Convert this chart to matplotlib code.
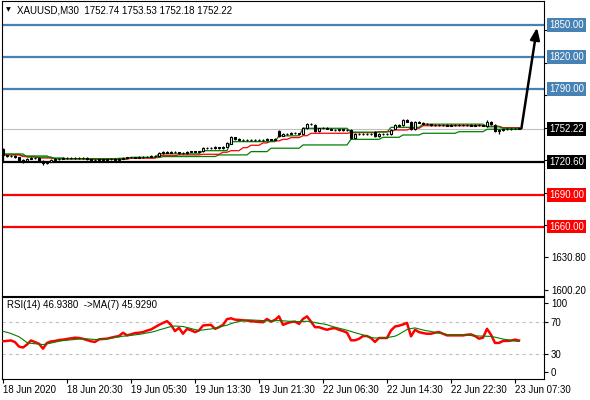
import matplotlib
matplotlib.use("Agg")
import matplotlib.pyplot as plt
import numpy as np

plt.rcParams['font.family'] = ['Liberation Sans', 'DejaVu Sans']

# --- XAUUSD M30 candles ---
opens = [
    1733.5, 1727.0, 1726.5, 1726.2, 1725.4, 1723.0, 1722.2, 1723.8, 1724.6, 1725.0,
    1722.0, 1719.5, 1721.0, 1722.8, 1723.5, 1724.0, 1724.5, 1724.8, 1724.2, 1724.6,
    1724.3, 1724.9, 1723.5, 1722.6, 1722.9, 1723.4, 1722.8, 1723.2, 1723.6, 1723.1,
    1723.9, 1724.8, 1725.2, 1725.3, 1725.0, 1725.6, 1725.9, 1725.7, 1726.3, 1726.6,
    1729.0, 1730.0, 1729.6, 1730.2, 1729.8, 1729.0, 1729.3, 1730.5, 1730.8, 1730.4,
    1730.9, 1734.0, 1733.6, 1733.9, 1734.7, 1733.8, 1735.3, 1738.0, 1744.2, 1742.5,
    1741.8, 1741.3, 1741.9, 1741.5, 1742.0, 1741.4, 1741.7, 1742.3, 1741.9, 1750.5,
    1745.5, 1747.0, 1747.6, 1748.5, 1748.0, 1747.6, 1752.8, 1756.8, 1755.5, 1750.0,
    1752.6, 1753.0, 1752.2, 1751.3, 1751.0, 1751.5, 1750.8, 1751.2, 1743.8, 1747.0,
    1746.8, 1747.4, 1747.2, 1749.2, 1745.0, 1747.2, 1747.0, 1747.5, 1752.0, 1756.0,
    1755.5, 1760.5, 1758.8, 1751.5, 1758.5, 1758.0, 1756.7, 1756.2, 1755.5, 1756.0,
    1755.4, 1755.8, 1755.2, 1755.9, 1755.5, 1756.1, 1755.4, 1755.8, 1755.0, 1755.6,
    1755.3, 1754.5, 1759.0, 1756.0, 1750.5, 1751.0, 1751.5, 1751.9, 1752.0, 1752.74]
highs = [
    1734.2, 1727.8, 1727.3, 1727.0, 1726.0, 1723.6, 1724.6, 1725.5, 1725.8, 1725.6,
    1722.6, 1721.8, 1723.5, 1724.2, 1724.8, 1725.3, 1725.5, 1725.4, 1725.3, 1725.2,
    1725.6, 1725.4, 1724.1, 1723.6, 1724.0, 1724.0, 1723.9, 1724.3, 1724.2, 1724.5,
    1725.4, 1725.9, 1726.0, 1725.9, 1726.3, 1726.6, 1726.5, 1727.0, 1727.3, 1729.8,
    1730.8, 1730.9, 1731.0, 1730.9, 1730.5, 1729.9, 1731.2, 1731.5, 1731.4, 1731.6,
    1734.6, 1734.7, 1734.6, 1735.5, 1735.3, 1736.0, 1739.3, 1745.0, 1744.8, 1743.2,
    1742.4, 1742.6, 1742.5, 1742.7, 1742.6, 1742.3, 1743.0, 1742.9, 1743.1, 1751.2,
    1747.8, 1748.3, 1749.2, 1749.1, 1748.6, 1753.5, 1757.8, 1757.6, 1756.2, 1753.3,
    1753.7, 1753.6, 1752.8, 1752.0, 1752.1, 1752.2, 1751.9, 1751.8, 1747.8, 1747.8,
    1748.1, 1748.2, 1747.9, 1749.8, 1747.9, 1747.8, 1748.2, 1751.6, 1756.8, 1756.7,
    1761.2, 1761.0, 1759.4, 1759.2, 1759.2, 1758.6, 1757.4, 1757.0, 1756.8, 1756.7,
    1756.5, 1756.6, 1756.8, 1756.5, 1757.0, 1756.7, 1756.4, 1756.5, 1756.3, 1756.2,
    1755.9, 1760.0, 1759.6, 1756.6, 1751.8, 1752.1, 1752.5, 1752.6, 1752.8, 1753.53]
lows = [
    1721.5, 1725.8, 1725.5, 1724.8, 1722.2, 1719.8, 1721.6, 1723.2, 1724.0, 1721.3,
    1718.0, 1718.6, 1720.4, 1722.2, 1723.0, 1723.6, 1723.9, 1723.6, 1723.5, 1723.6,
    1723.8, 1723.0, 1721.9, 1722.0, 1722.3, 1722.1, 1722.2, 1722.7, 1722.5, 1722.6,
    1723.4, 1724.2, 1724.6, 1724.3, 1724.4, 1725.0, 1725.1, 1725.1, 1725.8, 1726.1,
    1728.4, 1729.0, 1728.9, 1729.2, 1728.4, 1728.4, 1728.8, 1729.9, 1729.8, 1729.9,
    1730.5, 1733.0, 1733.0, 1733.3, 1733.2, 1733.3, 1734.8, 1737.4, 1741.9, 1741.2,
    1740.7, 1740.8, 1740.9, 1740.9, 1740.8, 1740.8, 1741.2, 1741.3, 1741.4, 1744.6,
    1744.9, 1746.4, 1747.0, 1747.4, 1746.9, 1747.0, 1752.2, 1755.6, 1749.3, 1749.5,
    1751.9, 1751.6, 1750.6, 1750.4, 1750.4, 1750.1, 1750.2, 1742.9, 1743.2, 1746.0,
    1746.0, 1746.5, 1746.2, 1744.3, 1744.5, 1746.3, 1746.5, 1746.5, 1751.5, 1754.6,
    1755.0, 1758.1, 1750.8, 1750.9, 1757.3, 1756.0, 1755.6, 1754.8, 1754.9, 1754.7,
    1754.8, 1754.6, 1754.5, 1754.7, 1754.9, 1754.7, 1754.7, 1754.3, 1754.3, 1754.6,
    1754.5, 1754.0, 1755.8, 1749.5, 1747.4, 1750.4, 1750.9, 1751.3, 1751.5, 1752.18]
closes = [
    1727.0, 1726.5, 1726.2, 1725.4, 1723.0, 1722.2, 1723.8, 1724.6, 1725.0, 1722.0,
    1719.5, 1721.0, 1722.8, 1723.5, 1724.0, 1724.5, 1724.8, 1724.2, 1724.6, 1724.3,
    1724.9, 1723.5, 1722.6, 1722.9, 1723.4, 1722.8, 1723.2, 1723.6, 1723.1, 1723.9,
    1724.8, 1725.2, 1725.3, 1725.0, 1725.6, 1725.9, 1725.7, 1726.3, 1726.6, 1729.0,
    1730.0, 1729.6, 1730.2, 1729.8, 1729.0, 1729.3, 1730.5, 1730.8, 1730.4, 1730.9,
    1734.0, 1733.6, 1733.9, 1734.7, 1733.8, 1735.3, 1738.5, 1744.2, 1742.5, 1741.8,
    1741.3, 1741.9, 1741.5, 1742.0, 1741.4, 1741.7, 1742.3, 1741.9, 1742.4, 1745.5,
    1747.0, 1747.6, 1748.5, 1748.0, 1747.6, 1752.8, 1756.8, 1756.5, 1750.0, 1752.6,
    1753.0, 1752.2, 1751.3, 1751.0, 1751.5, 1750.8, 1751.2, 1743.8, 1747.0, 1746.8,
    1747.4, 1747.2, 1746.9, 1745.0, 1747.2, 1747.0, 1747.5, 1751.0, 1756.0, 1755.2,
    1760.5, 1758.8, 1751.5, 1758.5, 1758.0, 1756.7, 1756.2, 1755.5, 1756.0, 1755.4,
    1755.8, 1755.2, 1755.9, 1755.5, 1756.1, 1755.4, 1755.8, 1755.0, 1755.6, 1755.3,
    1755.0, 1759.0, 1756.5, 1750.5, 1751.0, 1751.5, 1751.9, 1752.0, 1752.3, 1752.22]

# --- moving averages (stepped, higher timeframe): start bar of each step + value ---
ma_fast_start = [0, 6, 13, 32, 39, 50, 57, 69, 75, 87, 97, 105, 121, 125]
ma_fast_val = [1728.4, 1725.5, 1724.0, 1725.2, 1728.5, 1731.5, 1740.0, 1745.5,
               1752.6, 1749.0, 1753.5, 1756.5, 1754.0, 1752.6]
ma_mid_start = [0, 5, 9, 13, 21, 32, 39, 44, 50, 55, 57, 60, 62, 65, 67, 70, 72,
                75, 77, 87, 94, 98, 102, 105, 121, 125]
ma_mid_val = [1727.4, 1726.0, 1724.6, 1723.9, 1723.4, 1724.4, 1726.8, 1727.5,
              1728.1, 1730.0, 1731.5, 1734.3, 1736.6, 1738.8, 1740.7, 1742.2,
              1743.8, 1745.6, 1747.9, 1748.5, 1749.4, 1751.0, 1752.6, 1755.0,
              1754.5, 1753.2]
ma_slow_start = [0, 5, 12, 16, 29, 33, 40, 49, 54, 62, 67, 75, 87, 95, 100, 105, 114, 121]
ma_slow_val = [1728.0, 1726.5, 1724.6, 1723.7, 1724.3, 1725.0, 1725.9, 1726.0,
               1727.5, 1730.6, 1733.8, 1736.9, 1742.2, 1744.1, 1746.3, 1747.9,
               1749.4, 1751.7]

# --- RSI(14) and its MA(7) ---
rsi = [
    46.0, 46.5, 47.0, 45.0, 39.5, 38.4, 42.0, 47.0, 45.0, 43.0,
    37.0, 44.0, 45.8, 46.4, 47.5, 48.0, 48.8, 49.5, 50.4, 50.0,
    49.0, 47.5, 46.0, 45.2, 48.4, 48.8, 49.2, 50.4, 51.5, 52.4,
    56.4, 53.2, 54.5, 56.0, 56.4, 57.2, 59.0, 60.4, 63.2, 66.0,
    68.4, 70.5, 66.0, 58.4, 62.4, 55.2, 61.0, 59.5, 57.2, 59.2,
    65.2, 65.8, 66.0, 61.2, 63.2, 66.0, 73.0, 74.0, 72.4, 72.0,
    71.5, 71.2, 70.5, 70.0, 69.6, 69.2, 73.2, 70.0, 72.0, 76.4,
    66.0, 68.0, 69.5, 70.0, 67.2, 73.2, 76.4, 70.0, 63.2, 63.2,
    61.5, 60.0, 61.5, 62.0, 60.0, 58.5, 56.5, 47.2, 47.2, 49.0,
    52.4, 52.4, 50.0, 45.2, 50.0, 50.0, 50.0, 59.2, 64.0, 65.0,
    66.5, 68.4, 52.0, 60.0, 57.2, 56.0, 55.2, 55.2, 56.5, 57.2,
    55.2, 53.2, 53.2, 53.2, 53.2, 53.2, 54.0, 54.4, 52.4, 49.2,
    50.4, 61.2, 54.0, 44.0, 44.0, 46.4, 46.4, 46.8, 48.0, 46.938]
rsi_ma = [
    58.0, 57.0, 55.5, 53.5, 51.5, 48.0, 44.5, 43.5, 43.0, 42.5,
    42.0, 42.8, 43.8, 45.0, 46.0, 46.8, 47.3, 47.8, 48.3, 48.8,
    49.2, 49.0, 48.6, 48.2, 48.0, 48.5, 49.2, 49.8, 50.6, 51.4,
    52.2, 52.6, 53.2, 53.8, 54.4, 55.2, 56.2, 57.0, 58.2, 59.8,
    61.2, 62.6, 64.0, 64.6, 64.3, 64.0, 62.8, 61.6, 60.2, 59.3,
    59.8, 60.5, 61.0, 62.0, 63.2, 64.6, 65.6, 67.5, 69.0, 70.2,
    71.2, 71.8, 72.0, 71.8, 71.5, 71.2, 71.0, 71.0, 71.2, 71.2,
    71.0, 70.6, 70.2, 70.0, 70.0, 70.2, 70.4, 69.8, 68.8, 67.8,
    67.2, 66.2, 64.6, 63.2, 62.0, 60.8, 59.5, 58.0, 56.5, 55.2,
    53.8, 52.2, 50.5, 50.0, 50.0, 50.0, 50.5, 51.3, 52.2, 54.5,
    57.5, 60.3, 61.5, 62.3, 61.0, 59.8, 58.8, 58.0, 56.8, 56.0,
    55.2, 54.2, 54.0, 54.0, 54.0, 54.0, 53.6, 53.0, 52.6, 52.4,
    52.2, 52.1, 52.0, 51.0, 49.8, 48.7, 48.0, 47.2, 46.2, 45.929]

# --- levels / labels ---
blue_levels = [1850.0, 1820.0, 1790.0]
red_levels = [1690.0, 1660.0]
black_level = 1720.6
last_price = 1752.22
price_ticks = [1600.2, 1630.8, 1661.4, 1692.0, 1722.6, 1753.2, 1783.8, 1814.4, 1845.0]
shown_price_ticks = [1600.2, 1630.8]   # the rest sit under the level boxes
arrow_start = (129.6, 1752.5)
arrow_end = (133.5, 1847.5)
date_ticks = [0, 16, 32, 48, 64, 80, 96, 112, 128]
date_labels = ["18 Jun 2020", "18 Jun 20:30", "19 Jun 05:30", "19 Jun 13:30",
               "19 Jun 21:30", "22 Jun 06:30", "22 Jun 14:30", "22 Jun 22:30",
               "23 Jun 07:30"]

BLUE = "#4682B4"
RED = "#FF0000"
GREEN = "#008000"
FS = 6.9

W, H = 590, 400
def rect(x0, y0, x1, y1):
    return [x0 / W, 1 - y1 / H, (x1 - x0) / W, (y1 - y0) / H]

fig = plt.figure(figsize=(W / 100, H / 100), dpi=100)
ax = fig.add_axes(rect(2, 1, 544, 296))
ax2 = fig.add_axes(rect(2, 297, 544, 379))

n = len(closes)
x = np.arange(n)
o = np.array(opens); c = np.array(closes)
hi = np.array(highs); lo = np.array(lows)

# --- main price panel ---
ax.axhline(last_price, color="#C0C0C0", lw=0.8, zorder=1)
for v in blue_levels:
    ax.axhline(v, color=BLUE, lw=1.6, zorder=2)
for v in red_levels:
    ax.axhline(v, color=RED, lw=1.6, zorder=2)
ax.axhline(black_level, color="black", lw=1.6, zorder=2)

def steps(starts, vals):
    lens = np.diff(list(starts) + [n])
    return np.repeat(vals, lens)

ax.plot(x, steps(ma_slow_start, ma_slow_val), color=GREEN, lw=0.9, zorder=3)
ax.plot(x, steps(ma_mid_start, ma_mid_val), color=RED, lw=0.9, zorder=3)
ax.plot(x, steps(ma_fast_start, ma_fast_val), color=GREEN, lw=0.9, zorder=3)

up = c >= o
ax.vlines(x, lo, hi, color="black", lw=0.9, zorder=4)
ax.bar(x[up], (c - o)[up], bottom=o[up], width=0.65, facecolor="white",
       edgecolor="black", lw=0.8, zorder=5)
ax.bar(x[~up], (c - o)[~up], bottom=o[~up], width=0.65, facecolor="black",
       edgecolor="black", lw=0.8, zorder=5)

ax.annotate("", xy=arrow_end, xytext=arrow_start,
            arrowprops=dict(arrowstyle="-|>,head_length=0.7,head_width=0.28",
                            color="black", lw=1.8, shrinkA=0, shrinkB=0),
            zorder=6)

ax.set_xlim(-0.25, 135.25)
ax.set_ylim(1594.5, 1872.6)
ax.set_xticks([])
ax.yaxis.tick_right()
ax.set_yticks(price_ticks)
ax.set_yticklabels([f"{v:.2f}" if v in shown_price_ticks else "" for v in price_ticks])
ax.tick_params(axis="y", direction="out", length=3, width=0.8, labelsize=FS, pad=2)

def price_box(v, fc):
    ax.text(1.0092, v, f"{v:.2f}", transform=ax.get_yaxis_transform(),
            ha="left", va="center", color="white", fontsize=FS,
            bbox=dict(boxstyle="square,pad=0.2", fc=fc, ec="none"),
            clip_on=False, zorder=10)

for v in blue_levels:
    price_box(v, BLUE)
for v in red_levels:
    price_box(v, RED)
price_box(black_level, "black")
price_box(last_price, "black")

fig.text(8 / W, 1 - 10 / H, "\u25BC", fontsize=4.5, ha="center", va="center",
         family="DejaVu Sans")
fig.text(17 / W, 1 - 10.5 / H, "XAUUSD,M30  1752.74 1753.53 1752.18 1752.22",
         fontsize=7, ha="left", va="center")

# --- RSI panel ---
ax2.axhline(70, color="#C0C0C0", lw=0.8, ls=(0, (3, 3)))
ax2.axhline(30, color="#C0C0C0", lw=0.8, ls=(0, (3, 3)))
ax2.plot(x, rsi, color=RED, lw=1.8, zorder=3)
ax2.plot(x, rsi_ma, color=GREEN, lw=0.8, zorder=4)
ax2.set_xlim(-0.25, 135.25)
ax2.set_ylim(0, 100)
ax2.yaxis.tick_right()
ax2.set_yticks([8, 30, 70, 92.5])
ax2.set_yticklabels(["0", "30", "70", "100"])
ax2.tick_params(axis="y", direction="out", length=3, width=0.8, labelsize=FS, pad=2)
ax2.set_xticks(date_ticks)
ax2.set_xticklabels(date_labels)
ax2.tick_params(axis="x", direction="out", length=3, width=0.8, labelsize=FS, pad=1.5)
for lbl in ax2.get_xticklabels():
    lbl.set_ha("left")

fig.text(7 / W, 1 - 304.5 / H, "RSI(14) 46.9380  ->MA(7) 45.9290",
         fontsize=7, ha="left", va="center")

for a in (ax, ax2):
    for s in a.spines.values():
        s.set_color("black")
        s.set_linewidth(0.8)

fig.savefig("out.png", dpi=100)
